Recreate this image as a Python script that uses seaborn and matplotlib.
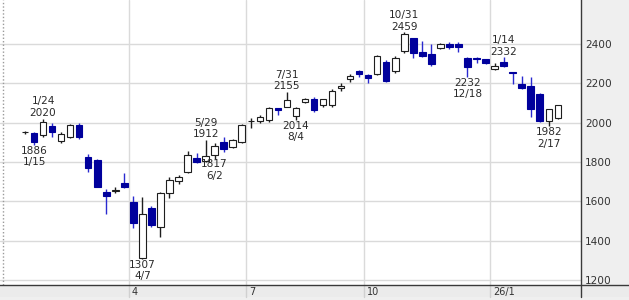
import numpy as np
import pandas as pd
import matplotlib
matplotlib.use("Agg")
import matplotlib.pyplot as plt
import matplotlib.transforms as mtransforms
import seaborn as sns

# ---------------- data (weekly candles) ----------------
first_week = "2025-01-06"
opens = [1950, 1949, 1937, 1985, 1908, 1926, 1988, 1827, 1810, 1647,
         1655, 1695, 1598, 1310, 1565, 1471, 1641, 1703, 1751, 1822,
         1807, 1836, 1900, 1878, 1900, 2006, 2010, 2014, 2073, 2081,
         2034, 2104, 2122, 2090, 2090, 2175, 2220, 2262, 2242, 2247,
         2310, 2263, 2364, 2429, 2361, 2348, 2378, 2400, 2398, 2330,
         2330, 2322, 2271, 2310, 2256, 2195, 2186, 2144, 2008, 2022]
highs = [1957, 1952, 2020, 1997, 1954, 1992, 1997, 1839, 1815, 1661,
         1671, 1746, 1627, 1620, 1576, 1649, 1725, 1734, 1856, 1847,
         1912, 1895, 1926, 1918, 1992, 2022, 2039, 2081, 2074, 2155,
         2081, 2126, 2132, 2122, 2170, 2200, 2247, 2270, 2246, 2345,
         2320, 2340, 2459, 2432, 2417, 2400, 2405, 2408, 2410, 2332,
         2333, 2324, 2302, 2332, 2257, 2237, 2234, 2150, 2072, 2092]
lows = [1944, 1886, 1927, 1929, 1895, 1920, 1915, 1751, 1672, 1536,
        1644, 1670, 1463, 1307, 1471, 1420, 1615, 1688, 1744, 1793,
        1800, 1817, 1852, 1870, 1897, 1971, 2000, 2005, 2040, 2078,
        2014, 2098, 2056, 2081, 2080, 2161, 2205, 2230, 2200, 2240,
        2205, 2250, 2355, 2327, 2335, 2290, 2375, 2373, 2361, 2232,
        2302, 2298, 2266, 2285, 2197, 2170, 2030, 2005, 1982, 2020]
closes = [1952, 1903, 2005, 1954, 1942, 1988, 1926, 1768, 1674, 1627,
          1660, 1674, 1488, 1536, 1480, 1641, 1708, 1725, 1836, 1801,
          1831, 1881, 1866, 1912, 1988, 2010, 2027, 2073, 2066, 2115,
          2073, 2122, 2064, 2119, 2163, 2188, 2237, 2245, 2226, 2341,
          2213, 2330, 2450, 2353, 2339, 2297, 2400, 2386, 2386, 2285,
          2322, 2302, 2288, 2288, 2251, 2178, 2068, 2008, 2069, 2090]

# swing labels: candle index, kind, date text
ann_index = [2, 1, 13, 20, 21, 29, 30, 42, 49, 53, 58]
ann_kind = ["high", "low", "low", "high", "low", "high", "low", "high", "low", "high", "low"]
ann_date = ["1/24", "1/15", "4/7", "5/29", "6/2", "7/31", "8/4", "10/31", "12/18", "1/14", "2/17"]

# month boundaries (first weekly candle of the month) and their labels
month_week = ["2025-03-31", "2025-06-30", "2025-09-29", "2026-01-05"]
month_labels = ["4", "7", "10", "26/1"]

y_ticks = [1200, 1400, 1600, 1800, 2000, 2200, 2400]

# ---------------- figure ----------------
sns.set_theme(style="white")
plt.rcParams["font.family"] = ["DejaVu Sans"]

weeks = pd.date_range(first_week, periods=len(opens), freq="W-MON")
df = pd.DataFrame({"week": weeks, "open": opens, "high": highs,
                   "low": lows, "close": closes})
df["x"] = np.arange(len(df))
df["up"] = df["close"] >= df["open"]

W, H = 629, 300
fig = plt.figure(figsize=(W / 100, H / 100), dpi=100, facecolor="#efefef")
ax = fig.add_axes([0, 15 / H, 581 / W, 285 / H])
ax.set_facecolor("white")

ax.set_xlim(-2.77, 61.57)
ax.set_ylim(1174.6, 2623.7)

bounds = [int(np.where(df["week"] == pd.Timestamp(m))[0][0]) - 0.5 for m in month_week]
ax.set_xticks(bounds)
ax.set_xticklabels([])
ax.set_yticks(y_ticks)
ax.set_yticklabels([str(v) for v in y_ticks])
ax.yaxis.tick_right()
ax.tick_params(axis="y", length=0, pad=3, labelsize=7.6, labelcolor="#333333")
ax.tick_params(axis="x", length=0)
ax.grid(True, color="#dadada", lw=1.0)
ax.set_axisbelow(True)

sns.despine(ax=ax, left=True, top=True, bottom=True, right=False)
ax.spines["right"].set_color("#3a3a3a")
ax.spines["right"].set_linewidth(1.0)

# dotted left border
ax.axvline(-2.47, color="#9a9a9a", lw=1.0, ls=(0, (1, 1.5)), zorder=1)

bear_fill = "#00009c"
bear_wick = "#2a2ad0"
bull_edge = "#1e1e1e"

wick_colors = [bull_edge if u else bear_wick for u in df["up"]]
ax.vlines(df["x"], df["low"], df["high"], colors=wick_colors, lw=1.0, zorder=2)

body_bottom = np.minimum(df["open"], df["close"])
body_height = np.abs(df["close"] - df["open"])
up = df["up"].values
ax.bar(df["x"][up], body_height[up], bottom=body_bottom[up], width=0.72,
       facecolor="white", edgecolor=bull_edge, linewidth=0.8, zorder=3)
ax.bar(df["x"][~up], body_height[~up], bottom=body_bottom[~up], width=0.72,
       facecolor=bear_fill, edgecolor=bear_fill, linewidth=0.8, zorder=3)

for i, kind, d in zip(ann_index, ann_kind, ann_date):
    if kind == "high":
        val = df["high"].iloc[i]
        ax.annotate(f"{d}\n{val}", xy=(i, val), xytext=(0, 0.5),
                    textcoords="offset points", ha="center", va="bottom",
                    fontsize=7.6, color="#2a2a2a", multialignment="center",
                    zorder=5, annotation_clip=False)
    else:
        val = df["low"].iloc[i]
        ax.annotate(f"{val}\n{d}", xy=(i, val), xytext=(0, -0.5),
                    textcoords="offset points", ha="center", va="top",
                    fontsize=7.6, color="#2a2a2a", multialignment="center",
                    zorder=5, annotation_clip=False)

# bottom date strip
strip = fig.add_axes([0, 3 / H, 1, 12 / H])
strip.set_facecolor("#ebebeb")
strip.set_xticks([])
strip.set_yticks([])
for s in ["left", "right", "bottom"]:
    strip.spines[s].set_visible(False)
strip.spines["top"].set_color("#3a3a3a")
strip.spines["top"].set_linewidth(1.0)
trans = mtransforms.blended_transform_factory(ax.transData, strip.transAxes)
for b, lab in zip(bounds, month_labels):
    strip.text(b + 0.35, 0.45, lab, transform=trans, ha="left", va="center",
               fontsize=7.0, color="#333333", clip_on=False)
    strip.plot([b, b], [0, 1], transform=trans, color="#d0d0d0", lw=1.0,
               clip_on=False)
strip.plot([581 / W, 581 / W], [0, 1], transform=strip.transAxes,
           color="#3a3a3a", lw=1.0, clip_on=False)

fig.savefig("out.png", dpi=100, facecolor=fig.get_facecolor())
